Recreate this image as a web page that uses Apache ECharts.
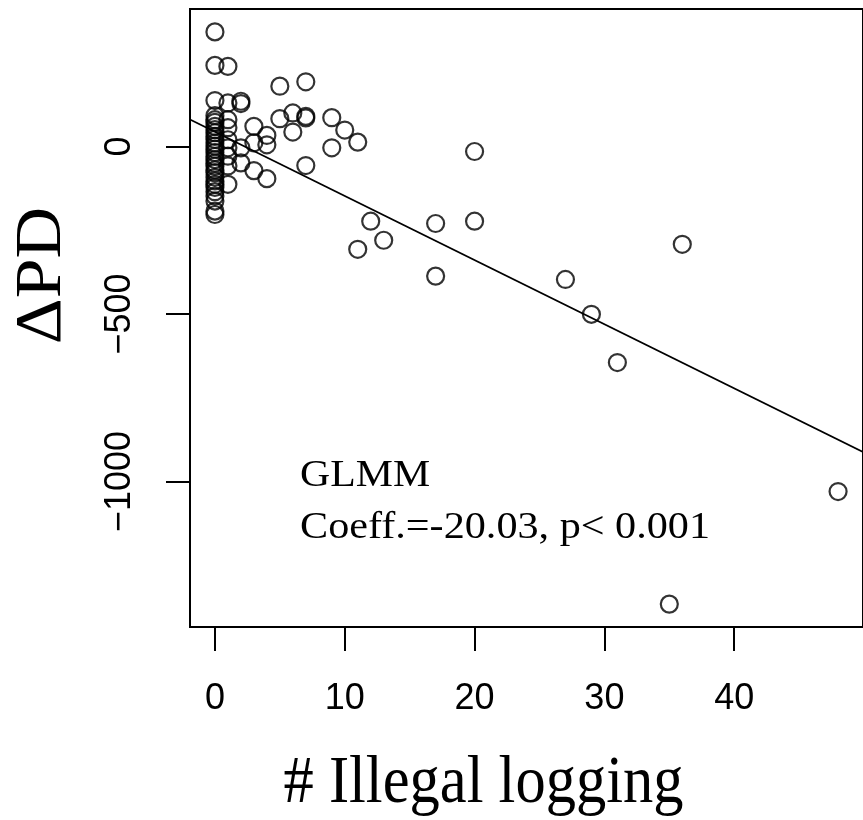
<!DOCTYPE html>
<html>
<head>
<meta charset="utf-8">
<script src="https://cdn.jsdelivr.net/npm/echarts@6/dist/echarts.min.js"></script>
<style>
  html, body { margin: 0; padding: 0; background: #fff; }
  #chart { width: 863px; height: 820px; }
</style>
</head>
<body>
<div id="chart"></div>
<script>
// Number of illegal logging events per site
const loggingCounts = [
  0, 0, 0, 0, 0, 0, 0, 0, 0, 0, 0, 0, 0, 0, 0, 0, 0, 0, 0, 0, 0, 0, 0, 0, 0, 0, 0, 0, 0, 0,
  1, 1, 1, 1, 1, 1, 1, 1, 1,
  2, 2, 2, 2,
  3, 3, 3,
  4, 4, 4,
  5, 5,
  6, 6,
  7, 7, 7, 7,
  9, 9,
  10,
  11, 11,
  12, 13,
  17, 17,
  20, 20,
  27, 29, 31, 35, 36, 48
];
// Change in PD for each site (same order)
const deltaPD = [
  342, 242, 137, 92, 80, 72, 60, 50, 41, 30, 21, 10, 1, -8, -18, -30, -39, -50, -59, -70, -78, -92, -103, -113, -122, -135, -148, -163, -193, -203,
  239, 130, 80, 56, 20, -4, -29, -58, -113,
  135, 128, -4, -49,
  60, 11, -72,
  33, 5, -96,
  180, 83,
  100, 43,
  193, 90, 85, -57,
  86, -4,
  49,
  13, -307,
  -223, -280,
  -230, -387,
  -15, -223,
  -397, -501, -645, -1366, -292, -1030
];

const xTicks = [0, 10, 20, 30, 40];
const yTicks = [-1000, -500, 0];

// Fitted trend line
const fitIntercept = 43.8;
const fitSlope = -19.14;

const xTitle = '# Illegal logging';
const yTitle = '\u0394PD';
const annotationLines = ['GLMM', 'Coeff.=-20.03, p< 0.001'];

// Axis limits padded by 4% of the data range on each side
function paddedRange(values) {
  const lo = Math.min(...values), hi = Math.max(...values);
  const d = (hi - lo) * 0.04;
  return [lo - d, hi + d];
}
const [xMin, xMax] = paddedRange(loggingCounts);
const [yMin, yMax] = paddedRange(deltaPD);

const points = loggingCounts.map((x, i) => [x, deltaPD[i]]);
const fitLine = [xMin, xMax].map(x => [x, fitIntercept + fitSlope * x]);

const minusSign = v => String(v).replace('-', '\u2212');

const chart = echarts.init(document.getElementById('chart'), null, { renderer: 'canvas' });
chart.setOption({
  animation: false,
  backgroundColor: '#fff',
  grid: {
    left: 190, top: 9, width: 676, height: 618,
    show: true, borderColor: '#000', borderWidth: 2, backgroundColor: 'transparent'
  },
  xAxis: {
    type: 'value', min: xMin, max: xMax,
    axisLine: { show: false, onZero: false },
    splitLine: { show: false },
    axisTick: { show: true, inside: false, customValues: xTicks, length: 24, lineStyle: { color: '#000', width: 2 } },
    axisLabel: {
      customValues: xTicks, margin: 54, color: '#000',
      fontFamily: 'Liberation Sans', fontSize: 36
    }
  },
  yAxis: {
    type: 'value', min: yMin, max: yMax,
    axisLine: { show: false, onZero: false },
    splitLine: { show: false },
    axisTick: { show: true, inside: false, customValues: yTicks, length: 24, lineStyle: { color: '#000', width: 2 } },
    axisLabel: {
      customValues: yTicks, rotate: 90, margin: 52, color: '#000',
      fontFamily: 'Liberation Sans', fontSize: 36,
      formatter: minusSign
    }
  },
  series: [
    {
      type: 'line', data: fitLine, symbol: 'none', silent: true,
      lineStyle: { color: '#000', width: 1.8 }
    },
    {
      type: 'scatter', data: points, symbol: 'circle', symbolSize: 17,
      itemStyle: { color: 'rgba(0,0,0,0)', borderColor: '#000', borderWidth: 2.2 }
    }
  ],
  graphic: [
    {
      type: 'text', x: 300, y: 476.5, scaleX: 1.1,
      style: { text: annotationLines[0], fontFamily: 'Liberation Serif', fontSize: 38, fill: '#000', textAlign: 'left', textVerticalAlign: 'middle' }
    },
    {
      type: 'text', x: 300, y: 528, scaleX: 1.11,
      style: { text: annotationLines[1], fontFamily: 'Liberation Serif', fontSize: 38, fill: '#000', textAlign: 'left', textVerticalAlign: 'middle' }
    },
    {
      type: 'text', x: 483.5, y: 784.5, scaleX: 0.89,
      style: { text: xTitle, fontFamily: 'Liberation Serif', fontSize: 68, fill: '#000', textAlign: 'center', textVerticalAlign: 'middle' }
    },
    {
      type: 'text', x: 43.3, y: 275.5, rotation: Math.PI / 2, scaleX: 1.1,
      style: { text: yTitle, fontFamily: 'Liberation Serif', fontSize: 65, fill: '#000', textAlign: 'center', textVerticalAlign: 'middle' }
    }
  ]
});
</script>
</body>
</html>
